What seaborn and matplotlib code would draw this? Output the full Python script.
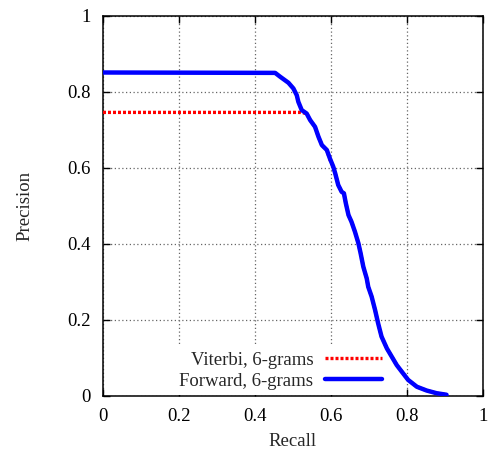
import matplotlib
matplotlib.use("Agg")
import matplotlib.pyplot as plt
import seaborn as sns
import pandas as pd
from matplotlib.ticker import FuncFormatter

fwd_recall = [0.0, 0.453, 0.466, 0.488, 0.501, 0.510, 0.514, 0.523, 0.536, 0.545, 0.558,
              0.567, 0.576, 0.589, 0.597, 0.606, 0.611, 0.619, 0.628, 0.634, 0.639,
              0.646, 0.654, 0.663, 0.672, 0.678, 0.685, 0.694, 0.698, 0.707, 0.716,
              0.724, 0.733, 0.747, 0.760, 0.773, 0.786, 0.803, 0.826, 0.852, 0.878, 0.904]
fwd_precision = [0.850, 0.849, 0.839, 0.823, 0.808, 0.790, 0.773, 0.751, 0.742, 0.725, 0.707,
                 0.681, 0.659, 0.646, 0.624, 0.602, 0.585, 0.554, 0.536, 0.532, 0.506,
                 0.475, 0.457, 0.431, 0.401, 0.374, 0.339, 0.308, 0.286, 0.260, 0.225,
                 0.190, 0.155, 0.124, 0.102, 0.080, 0.063, 0.041, 0.023, 0.013, 0.006, 0.002]
vit_recall = [0.0, 0.521, 0.536, 0.545, 0.558, 0.567, 0.576, 0.589, 0.597, 0.606, 0.611,
              0.619, 0.628, 0.634, 0.639, 0.646, 0.654, 0.663, 0.672, 0.678, 0.685,
              0.694, 0.698, 0.707, 0.716, 0.724, 0.733, 0.747, 0.760, 0.773, 0.786,
              0.803, 0.826, 0.852, 0.878, 0.904]
vit_precision = [0.745, 0.745, 0.742, 0.725, 0.707, 0.681, 0.659, 0.646, 0.621, 0.602, 0.585,
                 0.554, 0.536, 0.532, 0.506, 0.475, 0.457, 0.431, 0.401, 0.374, 0.339,
                 0.308, 0.286, 0.260, 0.225, 0.190, 0.155, 0.124, 0.102, 0.080, 0.063,
                 0.041, 0.023, 0.013, 0.006, 0.002]
series_names = ["Viterbi, 6-grams", "Forward, 6-grams"]
ticks = [0, 0.2, 0.4, 0.6, 0.8, 1]

sns.set_theme(style="white")
plt.rcParams["font.family"] = ["Liberation Serif", "DejaVu Serif"]
fs = 13.5

fig = plt.figure(figsize=(4.89, 4.55), dpi=100)
ax = fig.add_axes([103 / 489, 1 - 395.5 / 455, 380 / 489, 380 / 455])

df_v = pd.DataFrame({"Recall": vit_recall, "Precision": vit_precision})
df_f = pd.DataFrame({"Recall": fwd_recall, "Precision": fwd_precision})

sns.lineplot(data=df_v, x="Recall", y="Precision", ax=ax, sort=False, color="#ff0000",
             lw=2.4, linestyle=(0, (0.9, 0.6)), label=series_names[0], zorder=3)
sns.lineplot(data=df_f, x="Recall", y="Precision", ax=ax, sort=False, color="#0000ff",
             lw=3.2, label=series_names[1], zorder=4)

ax.set_xlim(0, 1)
ax.set_ylim(0, 1)
ax.set_xticks(ticks)
ax.set_yticks(ticks)
fmt = FuncFormatter(lambda v, p: "%g" % v)
ax.xaxis.set_major_formatter(fmt)
ax.yaxis.set_major_formatter(fmt)
ax.tick_params(direction="in", length=5, width=1, colors="black", labelsize=fs,
               top=True, right=True, bottom=True, left=True)
ax.tick_params(axis="x", pad=9)
ax.tick_params(axis="y", pad=9)
ax.grid(True, color="#666666", linestyle=(0, (1, 2)), linewidth=0.9)
for s in ax.spines.values():
    s.set_color("black")
    s.set_linewidth(1.1)
ax.set_xlabel("Recall", fontsize=fs, labelpad=6)
ax.set_ylabel("Precision", fontsize=fs, labelpad=24)

leg = ax.legend(loc="lower right", bbox_to_anchor=(0.773, -0.024), markerfirst=False,
                frameon=True, framealpha=1, facecolor="white", edgecolor="none",
                fontsize=fs, handlelength=3.0, handletextpad=0.65, labelspacing=0.2,
                borderpad=0.3, fancybox=False)
leg.set_zorder(2)

fig.savefig("out.png", dpi=100)
